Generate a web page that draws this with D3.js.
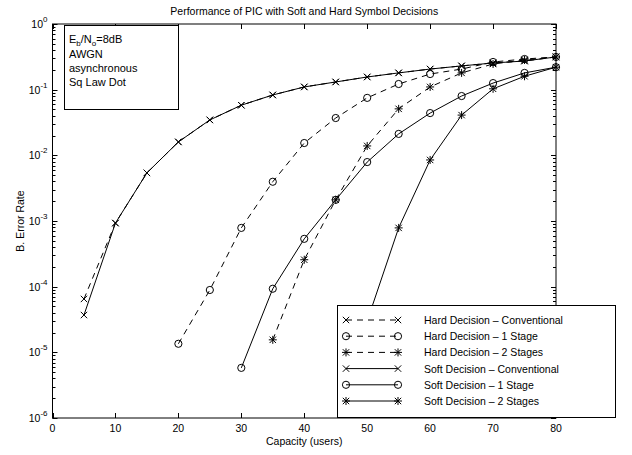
<!DOCTYPE html>
<html>
<head>
<meta charset="utf-8">
<script src="https://cdn.jsdelivr.net/npm/d3@7"></script>
<style>
  body { margin: 0; background: #fff; }
  svg { font-family: "Liberation Sans", Arial, sans-serif; }
</style>
</head>
<body>
<svg id="chart" width="632" height="455"></svg>
<script>
// users on the x axis, one BER value per series (null = not simulated)
const users = [5, 10, 15, 20, 25, 30, 35, 40, 45, 50, 55, 60, 65, 70, 75, 80];

const hardConv = [6.5e-5, 9.3e-4, 5.4e-3, 1.6e-2, 3.46e-2, 5.8e-2, 8.3e-2, 0.11, 0.131, 0.156, 0.18, 0.206, 0.23, 0.255, 0.273, 0.315];
const hard1 = [null, null, null, 1.35e-5, 8.9e-5, 7.85e-4, 3.96e-3, 1.54e-2, 3.7e-2, 7.5e-2, 0.122, 0.173, 0.206, 0.264, 0.293, 0.315];
const hard2 = [null, null, null, null, null, null, 1.55e-5, 2.57e-4, 2.1e-3, 1.39e-2, 5.1e-2, 0.11, 0.18, 0.246, 0.283, 0.315];
const softConv = [3.7e-5, 9.3e-4, 5.4e-3, 1.6e-2, 3.46e-2, 5.8e-2, 8.3e-2, 0.11, 0.131, 0.156, 0.18, 0.206, 0.23, 0.255, 0.273, 0.315];
const soft1 = [null, null, null, null, null, 5.8e-6, 9.3e-5, 5.35e-4, 2.1e-3, 7.9e-3, 2.12e-2, 4.4e-2, 8.0e-2, 0.126, 0.18, 0.22];
const soft2 = [null, null, null, null, null, null, null, null, null, 3e-5, 7.85e-4, 8.5e-3, 4.1e-2, 0.103, 0.16, 0.22];

const seriesNames = [
  "Hard Decision \u2013 Conventional",
  "Hard Decision \u2013 1 Stage",
  "Hard Decision \u2013 2 Stages",
  "Soft Decision \u2013 Conventional",
  "Soft Decision \u2013 1 Stage",
  "Soft Decision \u2013 2 Stages"
];
const xTicks = [0, 10, 20, 30, 40, 50, 60, 70, 80];
const yExponents = [0, -1, -2, -3, -4, -5, -6];
const noteLines = ["AWGN", "asynchronous", "Sq Law Dot"];

const series = [
  { name: seriesNames[0], values: hardConv, marker: "x", dash: "6,5" },
  { name: seriesNames[1], values: hard1, marker: "o", dash: "6,5" },
  { name: seriesNames[2], values: hard2, marker: "*", dash: "6,5" },
  { name: seriesNames[3], values: softConv, marker: "x", dash: null },
  { name: seriesNames[4], values: soft1, marker: "o", dash: null },
  { name: seriesNames[5], values: soft2, marker: "*", dash: null }
];

const svg = d3.select("#chart");
const mLeft = 52.5, mRight = 556, mTop = 24, mBottom = 418;

const x = d3.scaleLinear().domain([0, 80]).range([mLeft, mRight]);
const y = d3.scaleLog().domain([1e-6, 1]).range([mBottom, mTop]);

// minor + major ticks on left/right (inward)
const minorVals = [];
for (let e = -6; e < 0; e++) {
  for (let m = 2; m <= 9; m++) minorVals.push(m * Math.pow(10, e));
}
const ticks = svg.append("g").attr("stroke", "#000").attr("stroke-width", 1);
minorVals.forEach(v => {
  const yy = Math.round(y(v)) + 0.5;
  ticks.append("line").attr("x1", mLeft).attr("x2", mLeft + 3).attr("y1", yy).attr("y2", yy);
  ticks.append("line").attr("x1", mRight - 3).attr("x2", mRight).attr("y1", yy).attr("y2", yy);
});
yExponents.forEach(e => {
  const yy = Math.round(y(Math.pow(10, e))) + 0.5;
  ticks.append("line").attr("x1", mLeft).attr("x2", mLeft + 5).attr("y1", yy).attr("y2", yy);
  ticks.append("line").attr("x1", mRight - 5).attr("x2", mRight).attr("y1", yy).attr("y2", yy);
});
xTicks.forEach(t => {
  const xx = Math.round(x(t)) + 0.5;
  ticks.append("line").attr("x1", xx).attr("x2", xx).attr("y1", mBottom).attr("y2", mBottom - 5);
  ticks.append("line").attr("x1", xx).attr("x2", xx).attr("y1", mTop).attr("y2", mTop + 5);
});

// curves
const line = d3.line()
  .defined(d => d.v != null)
  .x(d => x(d.u))
  .y(d => y(d.v));

function drawMarker(g, type, cx, cy) {
  const s = 3.2;
  if (type === "o") {
    g.append("circle").attr("cx", cx).attr("cy", cy).attr("r", 3.6)
      .attr("fill", "none").attr("stroke", "#000");
  } else {
    g.append("path")
      .attr("d", `M${cx - s},${cy - s}L${cx + s},${cy + s}M${cx - s},${cy + s}L${cx + s},${cy - s}` +
        (type === "*" ? `M${cx},${cy - s - 0.8}L${cx},${cy + s + 0.8}M${cx - s - 0.8},${cy}L${cx + s + 0.8},${cy}` : ""))
      .attr("stroke", "#000").attr("fill", "none");
  }
}

const plot = svg.append("g");
series.forEach(s => {
  const pts = users.map((u, i) => ({ u: u, v: s.values[i] }));
  plot.append("path")
    .datum(pts)
    .attr("d", line)
    .attr("fill", "none")
    .attr("stroke", "#000")
    .attr("stroke-width", 1)
    .attr("stroke-dasharray", s.dash);
  const mg = plot.append("g").attr("stroke-width", 1);
  pts.filter(p => p.v != null).forEach(p => drawMarker(mg, s.marker, x(p.u), y(p.v)));
});

// axes box
svg.append("rect")
  .attr("x", mLeft).attr("y", mTop)
  .attr("width", mRight - mLeft).attr("height", mBottom - mTop)
  .attr("fill", "none").attr("stroke", "#000");

// tick labels
svg.append("g").selectAll("text").data(xTicks).join("text")
  .attr("x", d => x(d)).attr("y", mBottom + 14)
  .attr("text-anchor", "middle").attr("font-size", 10.5)
  .text(d => d);

const yl = svg.append("g").selectAll("text").data(yExponents).join("text")
  .attr("x", mLeft - 5).attr("y", d => y(Math.pow(10, d)) + 4)
  .attr("text-anchor", "end").attr("font-size", 10.5);
yl.append("tspan").text("10");
yl.append("tspan").attr("dy", -6).attr("font-size", 8).text(d => d);

// titles
svg.append("text").attr("x", (mLeft + mRight) / 2).attr("y", 15)
  .attr("text-anchor", "middle").attr("font-size", 10.5)
  .text("Performance of PIC with Soft and Hard Symbol Decisions");
svg.append("text").attr("x", (mLeft + mRight) / 2).attr("y", 445)
  .attr("text-anchor", "middle").attr("font-size", 10.5)
  .text("Capacity (users)");
svg.append("text")
  .attr("transform", `translate(24,${(mTop + mBottom) / 2}) rotate(-90)`)
  .attr("text-anchor", "middle").attr("font-size", 10.5)
  .text("B. Error Rate");

// note box
svg.append("rect").attr("x", 64.5).attr("y", 25.5).attr("width", 114).attr("height", 84)
  .attr("fill", "#fff").attr("stroke", "#000");
const eb = svg.append("text").attr("x", 69).attr("y", 43).attr("font-size", 11);
eb.append("tspan").text("E");
eb.append("tspan").attr("dy", 3).attr("font-size", 8).text("b");
eb.append("tspan").attr("dy", -3).text("/N");
eb.append("tspan").attr("dy", 3).attr("font-size", 8).text("o");
eb.append("tspan").attr("dy", -3).text("=8dB");
svg.append("g").selectAll("text").data(noteLines).join("text")
  .attr("x", 69).attr("y", (d, i) => 58 + i * 14).attr("font-size", 11)
  .text(d => d);

// legend
const lg = svg.append("g");
const lx = 337.5, ly = 305.5, lw = 278, lh = 112;
lg.append("rect").attr("x", lx).attr("y", ly).attr("width", lw).attr("height", lh)
  .attr("fill", "#fff").attr("stroke", "#000");
series.forEach((s, i) => {
  const yy = 320 + i * 16.2;
  lg.append("line").attr("x1", 346).attr("x2", 398).attr("y1", yy).attr("y2", yy)
    .attr("stroke", "#000").attr("stroke-dasharray", s.dash);
  drawMarker(lg, s.marker, 346, yy);
  drawMarker(lg, s.marker, 398, yy);
  lg.append("text").attr("x", 424).attr("y", yy + 4).attr("font-size", 10.5).text(s.name);
});
</script>
</body>
</html>
